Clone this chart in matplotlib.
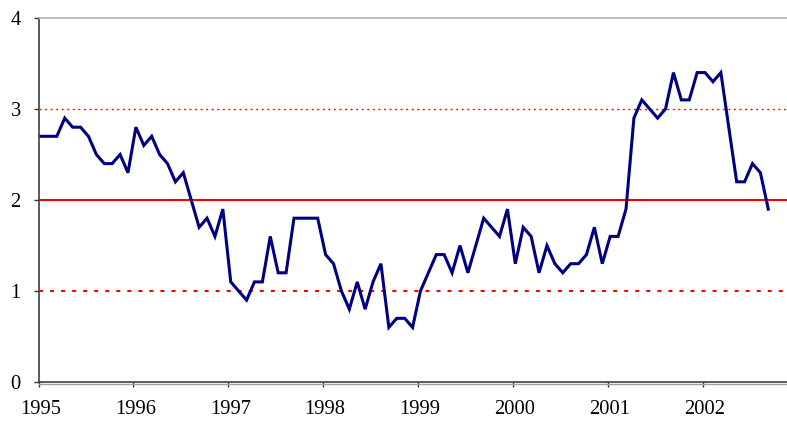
import numpy as np
import matplotlib
matplotlib.use("Agg")
import matplotlib.pyplot as plt
import matplotlib.transforms as mtransforms
from matplotlib.lines import Line2D

# Monthly values, Jan 1995 - Sep 2002
values_1995 = [2.7, 2.7, 2.7, 2.9, 2.8, 2.8, 2.7, 2.5, 2.4, 2.4, 2.5, 2.3]
values_1996 = [2.8, 2.6, 2.7, 2.5, 2.4, 2.2, 2.3, 2.0, 1.7, 1.8, 1.6, 1.9]
values_1997 = [1.1, 1.0, 0.9, 1.1, 1.1, 1.6, 1.2, 1.2, 1.8, 1.8, 1.8, 1.8]
values_1998 = [1.4, 1.3, 1.0, 0.8, 1.1, 0.8, 1.1, 1.3, 0.6, 0.7, 0.7, 0.6]
values_1999 = [1.0, 1.2, 1.4, 1.4, 1.2, 1.5, 1.2, 1.5, 1.8, 1.7, 1.6, 1.9]
values_2000 = [1.3, 1.7, 1.6, 1.2, 1.5, 1.3, 1.2, 1.3, 1.3, 1.4, 1.7, 1.3]
values_2001 = [1.6, 1.6, 1.9, 2.9, 3.1, 3.0, 2.9, 3.0, 3.4, 3.1, 3.1, 3.4]
values_2002 = [3.4, 3.3, 3.4, 2.8, 2.2, 2.2, 2.4, 2.3, 1.9]

start_year = 1995
target = 2.0
upper_band = 3.0
lower_band = 1.0
year_ticks = [1995, 1996, 1997, 1998, 1999, 2000, 2001, 2002]
y_ticks = [0, 1, 2, 3, 4]

values = (values_1995 + values_1996 + values_1997 + values_1998 +
          values_1999 + values_2000 + values_2001 + values_2002)
months = np.arange(len(values))
xpos = start_year + (months + 0.32) / 12.0

plt.rcParams['font.family'] = ['Liberation Serif', 'DejaVu Serif']

fig = plt.figure(figsize=(7.87, 4.21), dpi=100)
left = 38.5 / 787
bottom = 39 / 421
top = 18 / 421
ax = fig.add_axes([left, bottom, 1 - left, 1 - bottom - top])

ax.set_xlim(1995, 1995 + (787 - 38.5) / 94.86)
ax.set_ylim(0, 4)

ax.axhline(target, color='#ff0000', lw=1.5, zorder=2)
ax.axhline(upper_band, color='#ff0000', lw=1.0, linestyle=(0, (1.4, 2.6)), zorder=2)
ax.axhline(lower_band, color='#ff0000', lw=1.5, linestyle=(0, (1.9, 3.4)), zorder=2)

ax.plot(xpos, values, color='#000080', lw=2.2, zorder=3, solid_joinstyle='miter')

ax.set_xticks(year_ticks)
ax.set_xticklabels([str(y) for y in year_ticks])
ax.set_yticks(y_ticks)
ax.set_yticklabels([str(v) for v in y_ticks])

ax.tick_params(axis='both', labelsize=14.8, labelcolor='#000000', direction='out',
               length=3.8, width=1, color='#333333')
ax.tick_params(axis='x', pad=8.8)
ax.tick_params(axis='y', pad=9)

offset = mtransforms.ScaledTranslation(2 / 100, 0, fig.dpi_scale_trans)
for lbl in ax.get_xticklabels():
    lbl.set_transform(lbl.get_transform() + offset)

ax.spines['right'].set_visible(False)
ax.spines['top'].set_color('#b0b0b0')
ax.spines['top'].set_linewidth(1.2)
ax.spines['left'].set_color('#404040')
ax.spines['left'].set_linewidth(1.2)
ax.spines['bottom'].set_color('#404040')
ax.spines['bottom'].set_linewidth(1.2)

# secondary gray plot-area border just below the x axis
ax.add_line(Line2D([0, 1], [-0.005, -0.005], transform=ax.transAxes,
                   color='#a0a0a0', lw=1.0, clip_on=False))

fig.savefig('out.png', dpi=100)
